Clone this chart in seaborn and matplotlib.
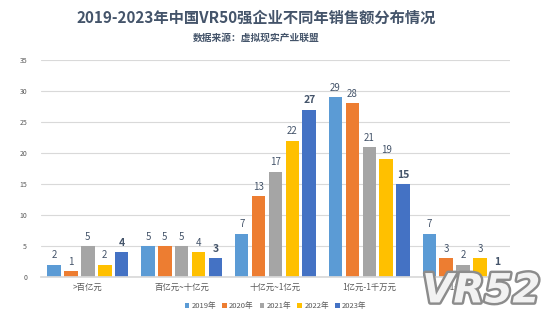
import matplotlib
matplotlib.use("Agg")
import matplotlib.pyplot as plt
import matplotlib.patheffects as pe
import seaborn as sns
import pandas as pd

categories = [">百亿元", "百亿元~十亿元", "十亿元~1亿元", "1亿元-1千万元", "<1千万元"]
years = ["2019年", "2020年", "2021年", "2022年", "2023年"]
v2019 = [2, 5, 7, 29, 7]
v2020 = [1, 5, 13, 28, 3]
v2021 = [5, 5, 17, 21, 2]
v2022 = [2, 4, 22, 19, 3]
v2023 = [4, 3, 27, 15, 1]
colors = ["#5B9BD5", "#ED7D31", "#A5A5A5", "#FFC000", "#4472C4"]

rows = []
for yr, vals in zip(years, [v2019, v2020, v2021, v2022, v2023]):
    for c, v in zip(categories, vals):
        rows.append({"cat": c, "year": yr, "val": v})
df = pd.DataFrame(rows)

sns.set_theme(style="white")
plt.rcParams['font.family'] = ['Noto Sans CJK SC', 'DejaVu Sans']

fig = plt.figure(figsize=(5.5, 3.22), dpi=100)
ax = fig.add_axes([0.0745, 0.1398, 0.8527, 0.674])
sns.barplot(data=df, x="cat", y="val", hue="year", palette=colors, ax=ax,
            width=0.9, gap=0.2, legend=True, saturation=1, edgecolor="none")
ax.set_ylim(0, 35)
ax.set_xlim(-0.5, 4.5)
ax.set_yticks(range(0, 36, 5))
ax.yaxis.grid(True, color="#D9D9D9", linewidth=0.8)
ax.set_axisbelow(True)
for s in ["top", "right", "left"]:
    ax.spines[s].set_visible(False)
ax.spines["bottom"].set_color("#D9D9D9")
ax.set_xlabel("")
ax.set_ylabel("")
ax.tick_params(axis="y", labelsize=5, colors="#595959", length=0, pad=10)
ax.tick_params(axis="x", labelsize=6, colors="#595959", length=0, pad=4)

for i, cont in enumerate(ax.containers):
    bold = (i == 4)
    ax.bar_label(cont, fmt="%d", padding=3, fontsize=7.5 if bold else 7,
                 color="#44546A", fontweight="bold" if bold else "normal")

h, l = ax.get_legend_handles_labels()
ax.legend(h, l, loc="upper center", bbox_to_anchor=(0.5, -0.085), ncol=5,
          frameon=False, fontsize=5.5, handlelength=0.6, handleheight=0.6,
          handletextpad=0.3, columnspacing=0.8, labelcolor="#595959")

fig.text(0.465, 0.944, "2019-2023年中国VR50强企业不同年销售额分布情况",
         ha="center", va="center", fontsize=11, fontweight="bold", color="#44546A")
fig.text(0.465, 0.882, "数据来源：虚拟现实产业联盟", ha="center", va="center",
         fontsize=7, fontweight="bold", color="#44546A")

fig.text(0.875, 0.095, "VR52", ha="center", va="center", fontsize=29,
         fontweight="bold", style="italic", color="#F2F2F2",
         family=["DejaVu Sans"], zorder=10,
         path_effects=[pe.withStroke(linewidth=3.5, foreground="#8C8C8C")])

fig.savefig("out.png", dpi=100)
